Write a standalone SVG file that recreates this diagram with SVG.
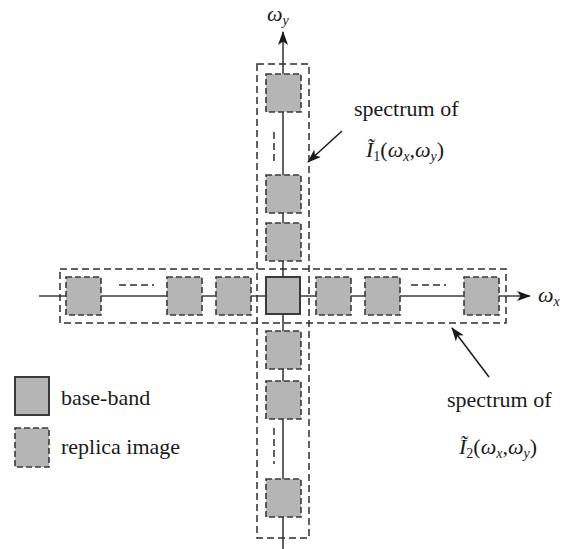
<svg xmlns="http://www.w3.org/2000/svg" width="568" height="549" viewBox="0 0 568 549">
  <style>
    .axis { stroke: #3c3c3c; stroke-width: 1.6; fill: none; }
    .frame { stroke: #2e2e2e; stroke-width: 1.5; fill: none; stroke-dasharray: 7 4; }
    .gap { stroke: #2e2e2e; stroke-width: 1.5; fill: none; stroke-dasharray: 7 4; }
    .replica { fill: #b5b5b5; stroke: #3a3a3a; stroke-width: 1.6; stroke-dasharray: 6 3; }
    .base { fill: #b5b5b5; stroke: #3a3a3a; stroke-width: 2; }
    .lbl { font-family: "Liberation Serif", "DejaVu Serif", serif; font-size: 22px; fill: #1a1a1a; }
    .sub { font-size: 14px; }
    .ptr { stroke: #1a1a1a; stroke-width: 1.5; fill: none; }
  </style>
  <defs>
    <marker id="arr" viewBox="0 0 14 10" refX="13" refY="5" markerWidth="14" markerHeight="10" markerUnits="userSpaceOnUse" orient="auto">
      <path d="M0,0 L14,5 L0,10 L3.5,5 Z" fill="#1a1a1a"/>
    </marker>
  </defs>

  <!-- axes and pointer arrows -->
  <g id="connectors">
    <line class="axis" x1="283" y1="549" x2="283" y2="32" marker-end="url(#arr)"/>
    <line class="axis" x1="39" y1="296" x2="530" y2="296" marker-end="url(#arr)"/>
    <line class="ptr" x1="342" y1="131" x2="308" y2="162" marker-end="url(#arr)"/>
    <line class="ptr" x1="489" y1="377" x2="452" y2="328" marker-end="url(#arr)"/>
  </g>

  <!-- spectrum groups (dashed enclosures) -->
  <g id="spectrum-I1">
    <rect class="frame" x="257" y="64" width="52" height="474"/>
  </g>
  <g id="spectrum-I2">
    <rect class="frame" x="60" y="269" width="446" height="54"/>
  </g>

  <!-- elisions between replicas -->
  <g id="ellipses">
    <line class="gap" x1="274" y1="132" x2="274" y2="164"/>
    <line class="gap" x1="274" y1="428" x2="274" y2="464"/>
    <line class="gap" x1="119" y1="285" x2="154" y2="285"/>
    <line class="gap" x1="411" y1="285" x2="446" y2="285"/>
  </g>

  <!-- horizontal replicas -->
  <g id="rep-x-1"><rect class="replica" x="66" y="277" width="35" height="38"/></g>
  <g id="rep-x-2"><rect class="replica" x="167" y="277" width="35" height="38"/></g>
  <g id="rep-x-3"><rect class="replica" x="216" y="277" width="35" height="38"/></g>
  <g id="rep-x-4"><rect class="replica" x="316" y="277" width="35" height="38"/></g>
  <g id="rep-x-5"><rect class="replica" x="365" y="277" width="35" height="38"/></g>
  <g id="rep-x-6"><rect class="replica" x="464" y="277" width="35" height="38"/></g>

  <!-- vertical replicas -->
  <g id="rep-y-1"><rect class="replica" x="266" y="74" width="35" height="38"/></g>
  <g id="rep-y-2"><rect class="replica" x="266" y="175" width="35" height="38"/></g>
  <g id="rep-y-3"><rect class="replica" x="266" y="223" width="35" height="38"/></g>
  <g id="rep-y-4"><rect class="replica" x="266" y="331" width="35" height="38"/></g>
  <g id="rep-y-5"><rect class="replica" x="266" y="381" width="35" height="38"/></g>
  <g id="rep-y-6"><rect class="replica" x="266" y="479" width="35" height="38"/></g>

  <!-- base band at the origin -->
  <g id="baseband"><rect class="base" x="266" y="277" width="34" height="37"/></g>

  <!-- axis labels -->
  <g id="label-wy">
    <text class="lbl" x="267" y="21" font-style="italic">ω<tspan class="sub" dy="4">y</tspan></text>
  </g>
  <g id="label-wx">
    <text class="lbl" x="538" y="302" font-style="italic">ω<tspan class="sub" dy="4">x</tspan></text>
  </g>

  <!-- annotations -->
  <g id="note-I1">
    <text class="lbl" x="354" y="116">spectrum of</text>
    <text class="lbl" x="366" y="157"><tspan font-style="italic">Ĩ</tspan><tspan class="sub" dy="4">1</tspan><tspan dy="-4">(</tspan><tspan font-style="italic">ω</tspan><tspan class="sub" font-style="italic" dy="4">x</tspan><tspan dy="-4">,</tspan><tspan font-style="italic">ω</tspan><tspan class="sub" font-style="italic" dy="4">y</tspan><tspan dy="-4">)</tspan></text>
  </g>
  <g id="note-I2">
    <text class="lbl" x="447" y="407">spectrum of</text>
    <text class="lbl" x="459" y="454"><tspan font-style="italic">Ĩ</tspan><tspan class="sub" dy="4">2</tspan><tspan dy="-4">(</tspan><tspan font-style="italic">ω</tspan><tspan class="sub" font-style="italic" dy="4">x</tspan><tspan dy="-4">,</tspan><tspan font-style="italic">ω</tspan><tspan class="sub" font-style="italic" dy="4">y</tspan><tspan dy="-4">)</tspan></text>
  </g>

  <!-- legend -->
  <g id="legend-base">
    <rect class="base" x="15" y="377" width="34" height="38"/>
    <text class="lbl" x="61" y="405">base-band</text>
  </g>
  <g id="legend-replica">
    <rect class="replica" x="15" y="428" width="34" height="39"/>
    <text class="lbl" x="61" y="454">replica image</text>
  </g>
</svg>
